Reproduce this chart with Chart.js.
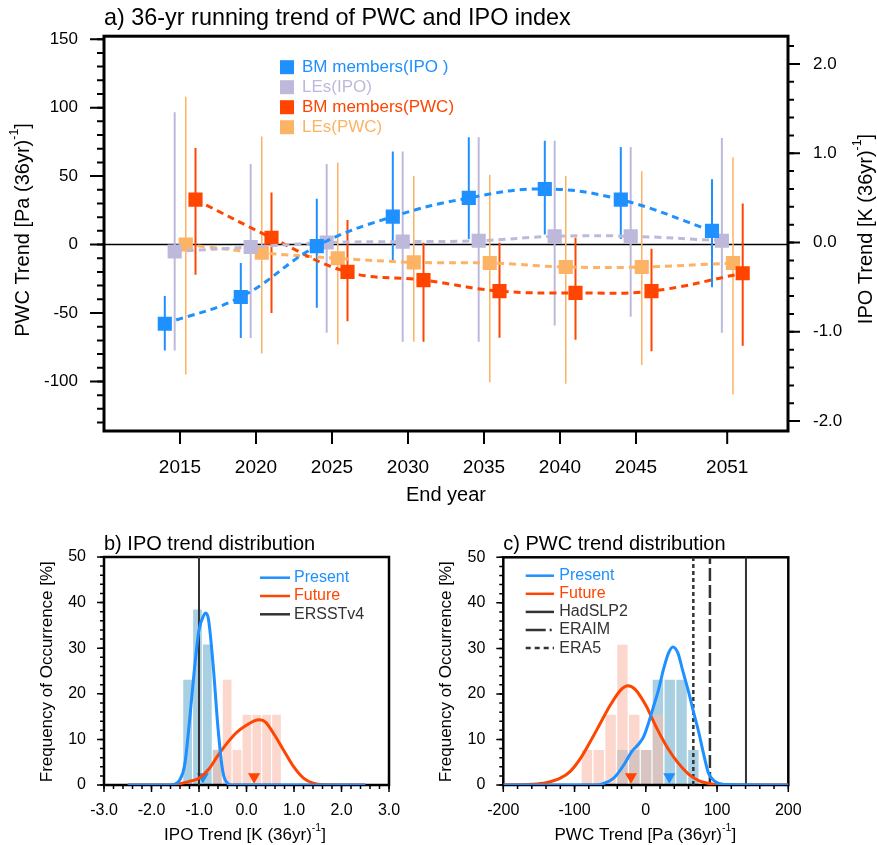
<!DOCTYPE html>
<html lang="en">
<head>
<meta charset="UTF-8">
<title>PWC and IPO trends</title>
<style>
  body { margin: 0; background: #fff; }
  #wrap { position: relative; width: 877px; height: 845px; }
  canvas { position: absolute; }
</style>
</head>
<body>
<div id="wrap">
  <canvas id="chartA" width="877" height="520" style="left:0;top:0"></canvas>
  <canvas id="chartB" width="430" height="325" style="left:0;top:520px"></canvas>
  <canvas id="chartC" width="447" height="325" style="left:430px;top:520px"></canvas>
</div>
<script src="https://cdn.jsdelivr.net/npm/chart.js@4.4.1/dist/chart.umd.min.js"></script>
<script>
// ---- panel a: 36-yr running trends, end years ----
const endYears = [2015, 2020, 2025, 2030, 2035, 2040, 2045, 2051];
const yearTicks = [2015, 2020, 2025, 2030, 2035, 2040, 2045, 2051];
const pwcTicks = [-100, -50, 0, 50, 100, 150];
const ipoTicks = [-2, -1, 0, 1, 2];

// IPO trend, K (36yr)^-1 -> right axis
const ipoBM   = [-0.91, -0.61, -0.04, 0.29, 0.50, 0.60, 0.48, 0.13];
const ipoBMLo = [-1.21, -1.07, -0.73, -0.23, 0.04, 0.09, 0.04, -0.50];
const ipoBMHi = [-0.60, -0.23, 0.49, 1.02, 1.18, 1.14, 1.07, 0.71];
const ipoLE   = [-0.10, -0.05, 0.00, 0.01, 0.02, 0.07, 0.07, 0.02];
const ipoLELo = [-1.21, -1.07, -1.01, -1.11, -1.11, -0.93, -0.83, -1.01];
const ipoLEHi = [1.46, 0.88, 0.88, 1.02, 1.18, 1.14, 1.07, 1.17];

// PWC trend, Pa (36yr)^-1 -> left axis
const pwcBM   = [32.8, 5, -20, -26, -34, -35.3, -34, -21];
const pwcBMLo = [-22, -50, -56, -71, -68, -69.6, -78, -74];
const pwcBMHi = [70.5, 38, 18, 1.4, 1.4, 5, -3, 30];
const pwcLE   = [0, -6, -10, -13, -13.5, -16.4, -16.4, -13.5];
const pwcLELo = [-95, -79.5, -73, -71, -100.5, -101.7, -88, -109.6];
const pwcLEHi = [108, 79, 60, 50, 51, 50, 53.6, 63.8];

// ---- panel b: IPO trend distribution ----
const ipoBins        = [-1.24, -1.032, -0.824, -0.616, -0.408, -0.2, 0.008, 0.216, 0.424, 0.632];
const ipoPresentFreq = [23.1, 38.5, 30.8, 7.7, 0, 0, 0, 0, 0, 0];
const ipoFutureFreq  = [0, 0, 0, 7.7, 23.1, 7.7, 15.4, 15.4, 15.4, 15.4];
const ipoPresX   = [-2.5, -1.6, -1.5, -1.4, -1.3, -1.2, -1.1, -1.0, -0.9, -0.86, -0.8, -0.7, -0.6, -0.5, -0.4, -0.3, 2.5];
const ipoPresPdf = [0, 0, 0.2, 1.2, 4.5, 14, 25, 34, 37.2, 37.7, 36.3, 26, 12.5, 3, 0.4, 0, 0];
const ipoFutX    = [-2.5, -1.6, -1.4, -1.2, -1.0, -0.8, -0.6, -0.4, -0.2, 0.0, 0.15, 0.28, 0.4, 0.6, 0.8, 1.0, 1.2, 1.4, 1.6, 2.5];
const ipoFutPdf  = [0, 0, 0.3, 0.8, 1.5, 3.4, 6.5, 9.3, 11.6, 13.1, 14, 14.3, 13.8, 10.8, 7.3, 3.9, 1.5, 0.4, 0.05, 0];
const ipoPresMean = -0.92, ipoFutMean = 0.16;
const ersstTrend = -1.0;
const ipoXTicks = [-3, -2, -1, 0, 1, 2, 3];

// ---- panel c: PWC trend distribution ----
const pwcBins        = [-82.6, -66, -49.4, -32.8, -16.2, 0.4, 17, 33.6, 50.2, 66.8];
const pwcPresentFreq = [0, 0, 0, 7.7, 7.7, 7.7, 23.1, 23.1, 23.1, 7.7];
const pwcFutureFreq  = [7.7, 7.7, 15.4, 30.8, 15.4, 7.7, 15.4, 0, 0, 0];
const pwcPresX   = [-200, -70, -60, -45, -30, -20, -10, -3, 4, 10, 18, 25, 32, 38, 45, 52, 60, 67, 74, 81, 88, 97, 110, 200];
const pwcPresPdf = [0, 0, 0.3, 1.5, 4.6, 7.3, 9, 10.6, 13.7, 16.8, 21, 25.5, 29, 30.3, 29, 25, 20.5, 16, 11.8, 6.9, 2.6, 0.8, 0.1, 0];
const pwcFutX    = [-200, -160, -140, -120, -106, -91, -78, -64, -50, -35, -25, -15, 0, 15, 30, 45, 60, 75, 90, 110, 200];
const pwcFutPdf  = [0, 0.15, 0.5, 1.5, 3, 6, 9.5, 13.5, 17.5, 20.9, 21.8, 21, 17.5, 12.6, 8.3, 4.9, 2.4, 0.9, 0.3, 0, 0];
const pwcPresMean = 33, pwcFutMean = -20.8;
const hadslp2Trend = 140.6, eraimTrend = 90, era5Trend = 66.7;
const pwcXTicks = [-200, -100, 0, 100, 200];
const freqTicks = [0, 10, 20, 30, 40, 50];

// ---- styling ----
const FONT = '"Liberation Sans", Arial, Helvetica, sans-serif';
const BLUE = '#1e90ff', LAV = '#bdb9db', LORANGE = '#fdb366', RED = '#ff4500', DARK = '#333333';
const BAR_BLUE = '#a9cfe2', BAR_SALMON = 'rgba(248,188,172,0.6)';
const markY = 1.8; // height of the mean triangles

Chart.defaults.font.family = FONT;
Chart.defaults.color = '#000';
Chart.defaults.animation = false;
Chart.defaults.events = [];
Chart.defaults.plugins.legend.display = false;
Chart.defaults.plugins.tooltip.enabled = false;

function range(from, to, step) {
  const out = [];
  for (let k = 0; from + k * step <= to + 1e-9; k++) out.push(+(from + k * step).toFixed(6));
  return out;
}
function xy(xs, ys) { return xs.map((x, i) => ({ x: x, y: ys[i] })); }
function fixedTicks(values) { return s => { s.ticks = values.map(v => ({ value: v })); }; }

function richText(ctx, parts, x, y, size, color, align, rot) {
  const sup = size * 0.62;
  const widths = parts.map(p => { ctx.font = (p[1] ? sup : size) + 'px ' + FONT; return ctx.measureText(p[0]).width; });
  const total = widths.reduce((a, b) => a + b, 0);
  ctx.save();
  ctx.translate(x, y);
  if (rot) ctx.rotate(rot);
  ctx.fillStyle = color;
  ctx.textBaseline = 'middle';
  ctx.textAlign = 'left';
  let cx = align === 'left' ? 0 : -total / 2;
  parts.forEach((p, i) => {
    ctx.font = (p[1] ? sup : size) + 'px ' + FONT;
    ctx.fillText(p[0], cx, p[1] ? -size * 0.4 : 0);
    cx += widths[i];
  });
  ctx.restore();
}

function tickMarks(chart, id, values, len, lw) {
  const s = chart.scales[id], a = chart.chartArea, ctx = chart.ctx;
  ctx.save();
  ctx.strokeStyle = '#000';
  ctx.lineWidth = lw;
  ctx.beginPath();
  values.forEach(v => {
    const p = s.getPixelForValue(v);
    if (s.axis === 'x') { ctx.moveTo(p, a.bottom); ctx.lineTo(p, a.bottom + len); }
    else if (s.position === 'left') { ctx.moveTo(a.left - len, p); ctx.lineTo(a.left, p); }
    else { ctx.moveTo(a.right, p); ctx.lineTo(a.right + len, p); }
  });
  ctx.stroke();
  ctx.restore();
}

function frame(chart, lw) {
  const a = chart.chartArea, ctx = chart.ctx;
  ctx.save();
  ctx.lineWidth = lw;
  ctx.strokeStyle = '#000';
  ctx.strokeRect(a.left, a.top, a.right - a.left, a.bottom - a.top);
  ctx.restore();
}

function lineLegend(ctx, items, x0, x1, xt, y0, dy, size) {
  items.forEach((it, i) => {
    const y = y0 + i * dy;
    ctx.save();
    ctx.strokeStyle = it[1];
    ctx.lineWidth = 2.5;
    ctx.setLineDash(it[3] || []);
    ctx.beginPath(); ctx.moveTo(x0, y); ctx.lineTo(x1, y); ctx.stroke();
    ctx.restore();
    richText(ctx, [[it[0]]], xt, y, size, it[2], 'left');
  });
}

const axisOpts = { grid: { display: false, drawTicks: false }, border: { display: false } };

// ================= panel a =================
const offIpoBM = -1.0, offIpoLE = -0.35, offPwcLE = 0.38, offPwcBM = 1.02;
function marks(vals, off) { return endYears.map((yr, i) => ({ x: yr + off, y: vals[i] })); }
function whiskers(lo, hi, off) {
  const d = [];
  endYears.forEach((yr, i) => { d.push({ x: yr + off, y: lo[i] }, { x: yr + off, y: hi[i] }, { x: yr + off, y: null }); });
  return d;
}
function series(vals, lo, hi, off, color, axis, ord, barW) {
  return [
    { data: marks(vals, off), yAxisID: axis, borderColor: color, backgroundColor: color,
      borderWidth: 3, borderDash: [7, 5], tension: 0.4, pointStyle: 'rect', pointRadius: 10,
      pointBorderWidth: 0, pointBackgroundColor: color, order: ord },
    { data: whiskers(lo, hi, off), yAxisID: axis, borderColor: color, borderWidth: barW,
      pointRadius: 0, order: 10 + ord }
  ];
}

const legendA = [['BM members(IPO )', BLUE], ['LEs(IPO)', LAV], ['BM members(PWC)', RED], ['LEs(PWC)', LORANGE]];
const pwcTitle = [['PWC Trend [Pa (36yr)'], ['-1', true], [']']];
const ipoTitle = [['IPO Trend [K (36yr)'], ['-1', true], [']']];

new Chart(document.getElementById('chartA'), {
  type: 'line',
  data: {
    datasets: [
      ...series(ipoBM, ipoBMLo, ipoBMHi, offIpoBM, BLUE, 'yI', 1, 2),
      ...series(ipoLE, ipoLELo, ipoLEHi, offIpoLE, LAV, 'yI', 2, 2),
      ...series(pwcBM, pwcBMLo, pwcBMHi, offPwcBM, RED, 'yP', 3, 2),
      ...series(pwcLE, pwcLELo, pwcLEHi, offPwcLE, LORANGE, 'yP', 4, 1.5),
      { data: [{ x: 2010, y: 0 }, { x: 2055, y: 0 }], yAxisID: 'yP', borderColor: '#000', borderWidth: 1.5, pointRadius: 0, order: 30 }
    ]
  },
  options: {
    responsive: false,
    layout: { padding: { top: 33, left: 0, right: 0, bottom: 0 } },
    scales: {
      x: { type: 'linear', min: 2010, max: 2055, ...axisOpts,
        afterBuildTicks: fixedTicks(yearTicks), afterFit: s => { s.height = 89; },
        ticks: { font: { size: 19 }, padding: 25, autoSkip: false, maxRotation: 0, callback: v => String(v) } },
      yP: { type: 'linear', position: 'left', min: -136.2, max: 152.2, ...axisOpts,
        afterBuildTicks: fixedTicks(pwcTicks), afterFit: s => { s.width = 104; },
        ticks: { font: { size: 17 }, padding: 26, callback: v => String(v) } },
      yI: { type: 'linear', position: 'right', min: -2.111, max: 2.311, ...axisOpts,
        afterBuildTicks: fixedTicks(ipoTicks), afterFit: s => { s.width = 89; },
        ticks: { font: { size: 17 }, padding: 25, callback: v => v.toFixed(1) } }
    }
  },
  plugins: [{
    id: 'decorA',
    afterDraw(chart) {
      const ctx = chart.ctx, a = chart.chartArea;
      frame(chart, 3);
      tickMarks(chart, 'yP', range(-130, 150, 10), 7, 2);
      tickMarks(chart, 'yP', pwcTicks, 14, 2);
      tickMarks(chart, 'yI', range(-2, 2.2, 0.2), 6, 2);
      tickMarks(chart, 'yI', ipoTicks, 12, 2);
      tickMarks(chart, 'x', yearTicks, 13, 2);
      richText(ctx, [['a) 36-yr running trend of PWC and IPO index']], a.left, 19, 23.4, '#000', 'left');
      richText(ctx, pwcTitle, 23, 230, 20, '#000', 'center', -Math.PI / 2);
      richText(ctx, ipoTitle, 866, 229, 20, '#000', 'center', -Math.PI / 2);
      richText(ctx, [['End year']], 446, 495, 20, '#000', 'center');
      legendA.forEach((it, i) => {
        const y = a.top + 31 + i * 20;
        ctx.fillStyle = it[1];
        ctx.fillRect(a.left + 176, y - 7, 14, 14);
        richText(ctx, [[it[0]]], a.left + 198, y, 17, it[1], 'left');
      });
    }
  }]
});

// ================= panels b and c =================
function distChart(id, o) {
  return new Chart(document.getElementById(id), {
    type: 'bar',
    data: {
      datasets: [
        { type: 'line', data: xy(o.presX, o.presPdf), borderColor: BLUE, borderWidth: 3, pointRadius: 0, cubicInterpolationMode: 'monotone', order: 0 },
        { type: 'line', data: xy(o.futX, o.futPdf), borderColor: RED, borderWidth: 3, pointRadius: 0, cubicInterpolationMode: 'monotone', order: 1 },
        ...o.obs.map(ob => ({ type: 'line', data: [{ x: ob[0], y: 0 }, { x: ob[0], y: 50 }], borderColor: DARK,
          borderWidth: ob[1], borderDash: ob[2], pointRadius: 0, order: 2 })),
        { type: 'line', data: [{ x: o.presMean, y: markY }], showLine: false, pointStyle: 'triangle', pointRotation: 180,
          pointRadius: 7, pointBorderWidth: 0, pointBackgroundColor: BLUE, order: 3 },
        { type: 'line', data: [{ x: o.futMean, y: markY }], showLine: false, pointStyle: 'triangle', pointRotation: 180,
          pointRadius: 7, pointBorderWidth: 0, pointBackgroundColor: RED, order: 3 },
        { type: 'bar', data: xy(o.bins, o.futFreq), backgroundColor: BAR_SALMON, grouped: false,
          barPercentage: 0.88, categoryPercentage: 1, order: 6, isTopBar: true },
        { type: 'bar', data: xy(o.bins, o.presFreq), backgroundColor: BAR_BLUE, grouped: false,
          barPercentage: 0.88, categoryPercentage: 1, order: 7 }
      ]
    },
    options: {
      responsive: false,
      layout: { padding: { top: o.top, right: o.right, left: 0, bottom: 0 } },
      scales: {
        x: { type: 'linear', min: o.xMin, max: o.xMax, offset: false, ...axisOpts,
          afterBuildTicks: fixedTicks(o.xTicks), afterFit: s => { s.height = 60; },
          ticks: { font: { size: 16 }, padding: 16, autoSkip: false, maxRotation: 0, callback: o.fmt } },
        y: { type: 'linear', min: 0, max: 50, ...axisOpts,
          afterBuildTicks: fixedTicks(freqTicks), afterFit: s => { s.width = o.left; },
          ticks: { font: { size: 16 }, padding: 18, callback: v => String(v) } }
      }
    },
    plugins: [{
      id: 'decor' + id,
      afterDatasetDraw(chart, args) {
        if (chart.data.datasets[args.index].isTopBar) frame(chart, 2.5);
      },
      afterDraw(chart) {
        const ctx = chart.ctx, a = chart.chartArea;
        tickMarks(chart, 'y', range(0, 50, 2), 4, 1.5);
        tickMarks(chart, 'y', freqTicks, 7, 1.5);
        tickMarks(chart, 'x', range(o.xMin, o.xMax, o.minorStep), 4, 1.5);
        tickMarks(chart, 'x', o.xTicks, 7, 1.5);
        richText(ctx, [[o.title]], a.left, 24.5, 20, '#000', 'left');
        richText(ctx, o.xTitle, o.xTitlePos[0], o.xTitlePos[1], 17, '#000', 'center');
        richText(ctx, [['Frequency of Occurrence [%]']], o.yTitleX, 151.7, 17, '#000', 'center', -Math.PI / 2);
        lineLegend(ctx, o.legend, o.leg[0], o.leg[1], o.leg[2], o.leg[3], o.leg[4], 16);
      }
    }]
  });
}

distChart('chartB', {
  bins: ipoBins, presFreq: ipoPresentFreq, futFreq: ipoFutureFreq,
  presX: ipoPresX, presPdf: ipoPresPdf, futX: ipoFutX, futPdf: ipoFutPdf,
  presMean: ipoPresMean, futMean: ipoFutMean,
  obs: [[ersstTrend, 2, []]],
  xMin: -3, xMax: 3, xTicks: ipoXTicks, minorStep: 0.2, fmt: v => v.toFixed(1),
  top: 37, right: 41, left: 104,
  title: 'b) IPO trend distribution',
  xTitle: [['IPO Trend [K (36yr)'], ['-1', true], [']']], xTitlePos: [245, 315], yTitleX: 47.5,
  legend: [['Present', BLUE, BLUE], ['Future', RED, RED], ['ERSSTv4', DARK, DARK]],
  leg: [260, 290, 294, 57.7, 18.3]
});

distChart('chartC', {
  bins: pwcBins, presFreq: pwcPresentFreq, futFreq: pwcFutureFreq,
  presX: pwcPresX, presPdf: pwcPresPdf, futX: pwcFutX, futPdf: pwcFutPdf,
  presMean: pwcPresMean, futMean: pwcFutMean,
  obs: [[hadslp2Trend, 2, []], [eraimTrend, 2.5, [13, 4]], [era5Trend, 2.5, [4, 3]]],
  xMin: -200, xMax: 200, xTicks: pwcXTicks, minorStep: 20, fmt: v => String(v),
  top: 37.3, right: 88.7, left: 73.3,
  title: 'c) PWC trend distribution',
  xTitle: [['PWC Trend [Pa (36yr)'], ['-1', true], [']']], xTitlePos: [215.3, 315], yTitleX: 16.7,
  legend: [['Present', BLUE, BLUE], ['Future', RED, RED], ['HadSLP2', DARK, DARK],
           ['ERAIM', DARK, DARK, [20, 4, 2, 4]], ['ERA5', DARK, DARK, [5, 4]]],
  leg: [95.7, 124, 129.3, 55.7, 18.1]
});
</script>
</body>
</html>
